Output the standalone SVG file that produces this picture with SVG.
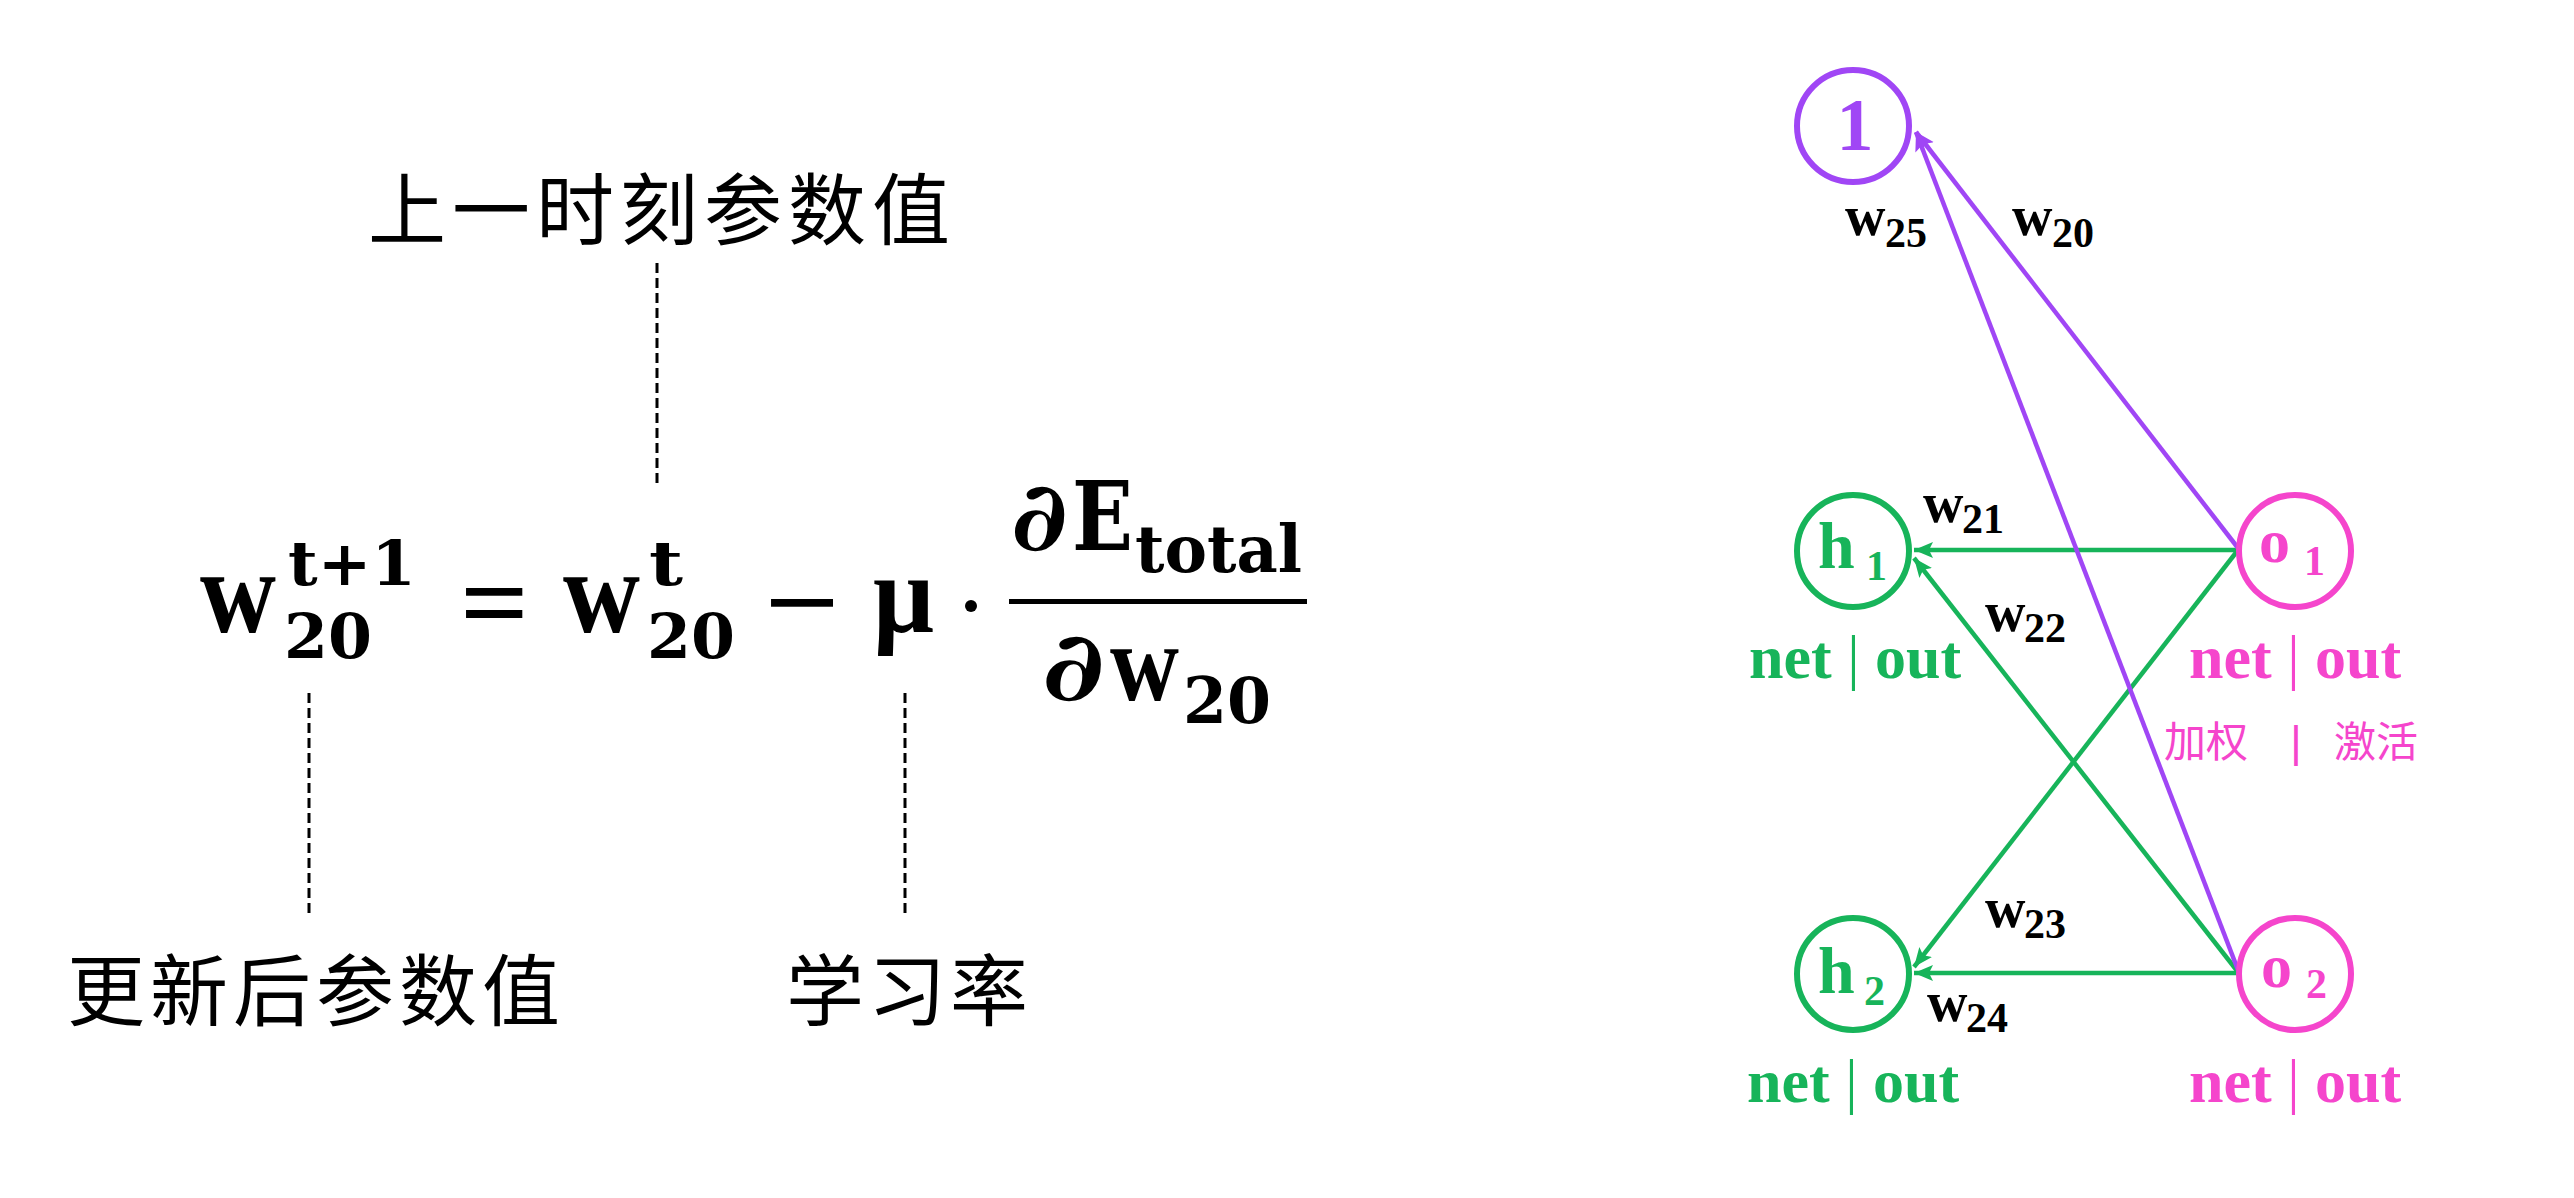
<svg xmlns="http://www.w3.org/2000/svg" width="2574" height="1198" viewBox="0 0 2574 1198">
<defs>
<style>
.m{font-family:"Liberation Serif","DejaVu Serif",serif;font-weight:bold;fill:#000}
.d{font-family:"DejaVu Serif","Liberation Serif",serif;font-weight:bold;fill:#000}
.cjk{font-family:"Noto Sans CJK SC",sans-serif;font-weight:400;fill:#000;font-size:78px}
.dash{stroke:#000;stroke-width:3;stroke-dasharray:10 5;fill:none}
.lbl{font-family:"Liberation Serif","DejaVu Serif",serif;font-weight:bold}
.thin{font-weight:normal}
.g{fill:#17b45a}.p{fill:#f545cc}.v{fill:#a046f5}
.cg{fill:none;stroke:#17b45a;stroke-width:6}
.cp{fill:none;stroke:#f545cc;stroke-width:6}
.cv{fill:none;stroke:#a046f5;stroke-width:6}
.eg{stroke:#17b45a;stroke-width:4.5;fill:none}
.ev{stroke:#a046f5;stroke-width:4.5;fill:none}
</style>
<marker id="ag" markerUnits="userSpaceOnUse" markerWidth="22" markerHeight="18" refX="19" refY="9" orient="auto"><path d="M0,1 L19,9 L0,17 L4,9 z" fill="#17b45a"/></marker>
<marker id="av" markerUnits="userSpaceOnUse" markerWidth="22" markerHeight="18" refX="19" refY="9" orient="auto"><path d="M0,1 L19,9 L0,17 L4,9 z" fill="#a046f5"/></marker>
</defs>
<rect width="2574" height="1198" fill="#fff"/>

<g id="formula">
<text class="m" x="200" y="632" font-size="118" textLength="76" lengthAdjust="spacingAndGlyphs">w</text>
<text class="d" x="284" y="658" font-size="62" textLength="88" lengthAdjust="spacingAndGlyphs">20</text>
<text class="d" x="288" y="585" font-size="62" textLength="128" lengthAdjust="spacingAndGlyphs">t+1</text>
<text class="m" x="460" y="640" font-size="112" textLength="69" lengthAdjust="spacingAndGlyphs">=</text>
<text class="m" x="563" y="632" font-size="118" textLength="77" lengthAdjust="spacingAndGlyphs">w</text>
<text class="d" x="647" y="658" font-size="62" textLength="88" lengthAdjust="spacingAndGlyphs">20</text>
<text class="d" x="649" y="585" font-size="62" textLength="34" lengthAdjust="spacingAndGlyphs">t</text>
<text class="m" x="764" y="640" font-size="112" textLength="76" lengthAdjust="spacingAndGlyphs">−</text>
<text class="m" x="873" y="632" font-size="112" textLength="61" lengthAdjust="spacingAndGlyphs">μ</text>
<circle cx="971" cy="606" r="6" fill="#000"/>
<text class="d" x="1011" y="550" font-size="96" textLength="57" lengthAdjust="spacingAndGlyphs">∂</text>
<text class="d" x="1072" y="550" font-size="96" textLength="61" lengthAdjust="spacingAndGlyphs">E</text>
<text class="d" x="1135" y="572" font-size="66" textLength="167" lengthAdjust="spacingAndGlyphs">total</text>
<rect x="1009" y="599" width="298" height="5" fill="#000"/>
<text class="d" x="1042" y="700" font-size="96" textLength="63" lengthAdjust="spacingAndGlyphs">∂</text>
<text class="m" x="1110" y="700" font-size="110" textLength="69" lengthAdjust="spacingAndGlyphs">w</text>
<text class="d" x="1183" y="723" font-size="64" textLength="88" lengthAdjust="spacingAndGlyphs">20</text>
</g>

<g id="annotations">
<line class="dash" x1="657" y1="263" x2="657" y2="488"/>
<line class="dash" x1="309" y1="693" x2="309" y2="916"/>
<line class="dash" x1="905" y1="693" x2="905" y2="916"/>
<text class="cjk" x="368" y="239" letter-spacing="6">上一时刻参数值</text>
<text class="cjk" x="67" y="1020" letter-spacing="5">更新后参数值</text>
<text class="cjk" x="786" y="1020" letter-spacing="4">学习率</text>
</g>

<g id="connectors">
<line class="eg" x1="2238" y1="550" x2="1914" y2="550" marker-end="url(#ag)"/>
<line class="eg" x1="2238" y1="972" x2="1914" y2="558" marker-end="url(#ag)"/>
<line class="eg" x1="2238" y1="550" x2="1914" y2="967" marker-end="url(#ag)"/>
<line class="eg" x1="2240" y1="973" x2="1914" y2="973" marker-end="url(#ag)"/>
<line class="ev" x1="2238" y1="548" x2="1916" y2="132" marker-end="url(#av)"/>
<line class="ev" x1="2238" y1="970" x2="1916" y2="132" marker-end="url(#av)"/>
</g>

<g id="weights" class="lbl">
<text x="1845" y="235" font-size="56">w</text><text x="1885" y="247" font-size="42">25</text>
<text x="2012" y="235" font-size="56">w</text><text x="2052" y="247" font-size="42">20</text>
<text x="1923" y="522" font-size="56">w</text><text x="1962" y="533" font-size="42">21</text>
<text x="1985" y="631" font-size="56">w</text><text x="2024" y="642" font-size="42">22</text>
<text x="1985" y="927" font-size="56">w</text><text x="2024" y="938" font-size="42">23</text>
<text x="1927" y="1021" font-size="56">w</text><text x="1966" y="1032" font-size="42">24</text>
</g>

<g id="node-bias">
<circle class="cv" cx="1853" cy="126" r="56"/>
<text class="lbl v" x="1855" y="150" font-size="74" text-anchor="middle">1</text>
</g>
<g id="node-h1">
<circle class="cg" cx="1853" cy="551" r="56"/>
<text class="lbl g" x="1818" y="568" font-size="66">h</text>
<text class="lbl g" x="1866" y="580" font-size="42">1</text>
<text class="lbl g" x="1749" y="678" font-size="62">net <tspan class="thin">|</tspan> out</text>
</g>
<g id="node-h2">
<circle class="cg" cx="1853" cy="974" r="56"/>
<text class="lbl g" x="1818" y="993" font-size="66">h</text>
<text class="lbl g" x="1864" y="1005" font-size="42">2</text>
<text class="lbl g" x="1747" y="1102" font-size="62">net <tspan class="thin">|</tspan> out</text>
</g>
<g id="node-o1">
<circle class="cp" cx="2295" cy="551" r="56"/>
<text class="lbl p" x="2259" y="562" font-size="62">o</text>
<text class="lbl p" x="2304" y="575" font-size="42">1</text>
<text class="lbl p" x="2189" y="678" font-size="62">net <tspan class="thin">|</tspan> out</text>
<text class="p" font-family="Noto Sans CJK SC, sans-serif" font-size="42" x="2164" y="757">加权</text>
<text class="p" font-family="Liberation Sans, sans-serif" font-size="44" x="2296" y="757" text-anchor="middle">|</text>
<text class="p" font-family="Noto Sans CJK SC, sans-serif" font-size="42" x="2334" y="757">激活</text>
</g>
<g id="node-o2">
<circle class="cp" cx="2295" cy="974" r="56"/>
<text class="lbl p" x="2261" y="987" font-size="62">o</text>
<text class="lbl p" x="2306" y="998" font-size="42">2</text>
<text class="lbl p" x="2189" y="1102" font-size="62">net <tspan class="thin">|</tspan> out</text>
</g>
</svg>
